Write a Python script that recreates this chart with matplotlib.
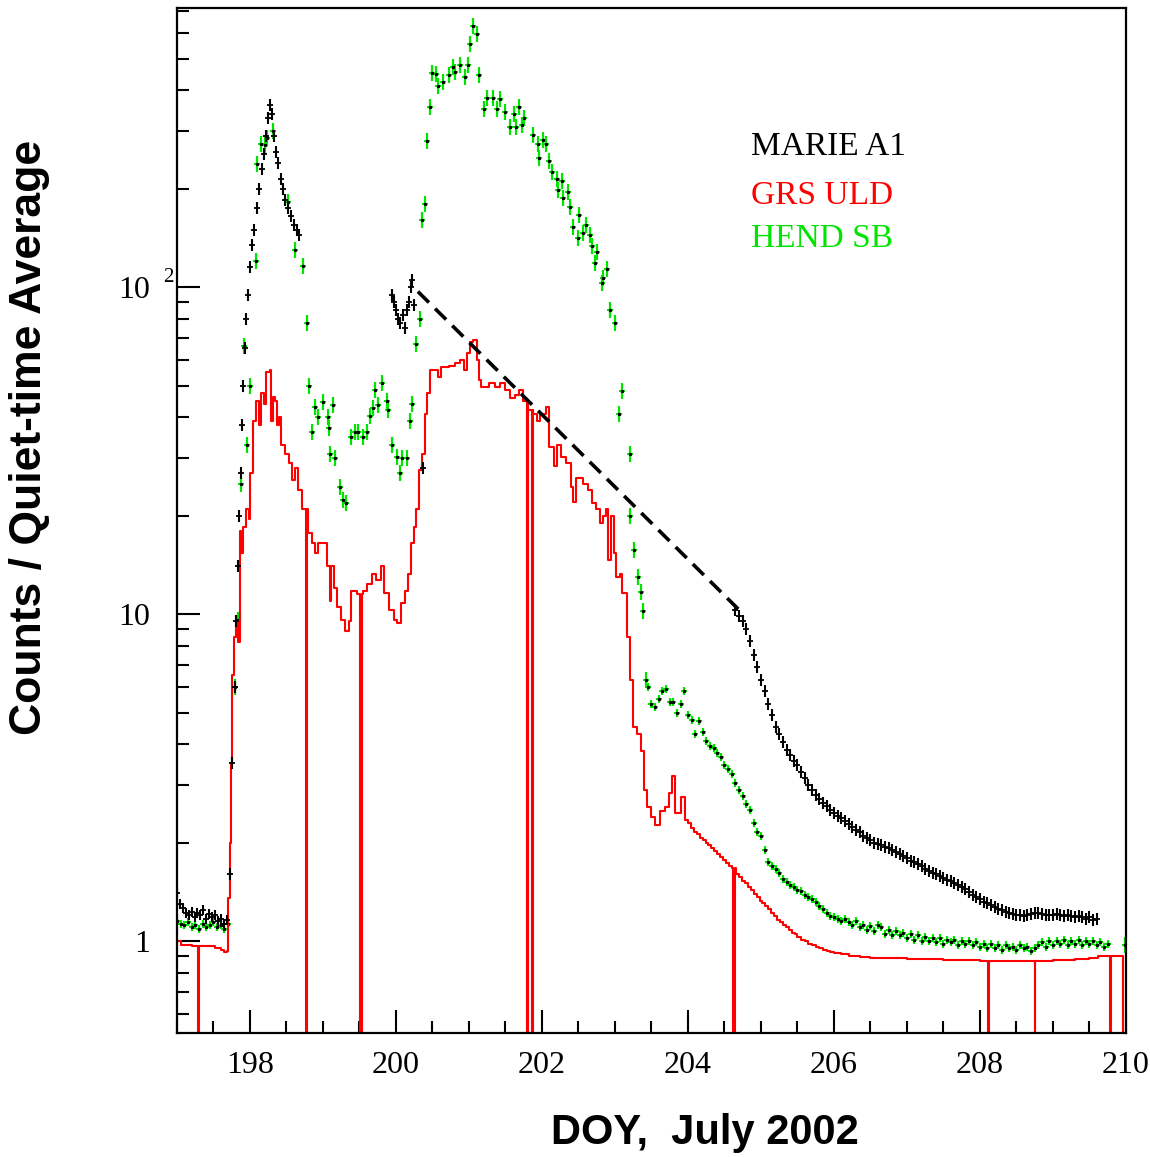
import numpy as np
import matplotlib.pyplot as plt
from matplotlib.ticker import MultipleLocator, LogLocator, NullFormatter, FixedFormatter

# ---------------- data ----------------
# MARIE A1 (black points)
marie_quiet = [1.40, 1.30, 1.26, 1.22, 1.20, 1.23, 1.18, 1.22, 1.20, 1.24,
               1.17, 1.21, 1.18, 1.20, 1.15, 1.17, 1.13, 1.16]          # 197.00 - 197.68
marie_rise_day = [197.72, 197.76, 197.79, 197.81, 197.83, 197.85, 197.87, 197.89,
                  197.91, 197.93, 197.95, 197.97, 198.00, 198.03, 198.06, 198.10,
                  198.13, 198.16, 198.19, 198.22, 198.25, 198.27, 198.30, 198.33,
                  198.36, 198.39, 198.42, 198.45, 198.48, 198.52, 198.56, 198.60,
                  198.64, 198.67]
marie_rise_val = [1.6, 3.5, 6.0, 9.5, 14, 20, 27, 38,
                  50, 65, 80, 95, 115, 135, 150, 175,
                  200, 230, 255, 290, 330, 360, 340, 290,
                  260, 240, 215, 200, 185, 175, 165, 155,
                  150, 145]
marie_mid_day = [199.95, 199.97, 200.00, 200.03, 200.06, 200.09, 200.12, 200.15,
                 200.18, 200.20, 200.22, 200.24, 200.37]
marie_mid_val = [95, 90, 85, 80, 78, 82, 75, 85, 90, 100, 105, 88, 28]
marie_tail = [10.3, 9.9, 9.5, 9.0, 8.3, 7.5, 6.9, 6.3, 5.8, 5.3,
              4.9, 4.5, 4.3, 4.05, 3.85, 3.7, 3.55, 3.45, 3.3, 3.15,
              3.0, 2.9, 2.8, 2.72, 2.64, 2.58, 2.52, 2.47, 2.42, 2.38,
              2.33, 2.28, 2.24, 2.19, 2.15, 2.1, 2.06, 2.03, 2.0, 1.98,
              1.96, 1.94, 1.92, 1.9, 1.87, 1.85, 1.82, 1.79, 1.76, 1.74,
              1.72, 1.69, 1.66, 1.64, 1.62, 1.6, 1.58, 1.56, 1.54, 1.53,
              1.5, 1.48, 1.46, 1.44, 1.41, 1.38, 1.36, 1.34, 1.32, 1.31,
              1.29, 1.27, 1.25, 1.24, 1.23, 1.22, 1.21, 1.2, 1.2, 1.19,
              1.2, 1.21, 1.22, 1.22, 1.21, 1.2, 1.2, 1.2, 1.21, 1.2,
              1.19, 1.2, 1.19, 1.18, 1.19, 1.18, 1.17, 1.18, 1.16, 1.17]  # 204.65 - 209.60

# GRS ULD (red histogram)
grs_day = [197.00, 197.06, 197.20, 197.40, 197.52, 197.60, 197.64, 197.68, 197.70, 197.72,
           197.74, 197.76, 197.78, 197.81, 197.84, 197.86, 197.88, 197.90, 197.94, 197.98,
           198.00, 198.04, 198.08, 198.12, 198.15, 198.19, 198.22, 198.27, 198.29, 198.31,
           198.34, 198.37, 198.40, 198.43, 198.48, 198.53, 198.58, 198.62, 198.66, 198.71,
           198.80, 198.85, 198.89, 198.93, 199.05, 199.09, 199.11, 199.15, 199.19, 199.25,
           199.30, 199.36, 199.38, 199.47, 199.55, 199.60, 199.67, 199.73, 199.80, 199.84,
           199.90, 199.97, 200.02, 200.07, 200.12, 200.17, 200.21, 200.24, 200.27, 200.31,
           200.36, 200.40, 200.43, 200.47, 200.57, 200.62, 200.72, 200.81, 200.88, 200.93,
           200.97, 201.02, 201.06, 201.11, 201.14, 201.17, 201.27, 201.36, 201.43, 201.50,
           201.56, 201.63, 201.68, 201.74, 201.81, 201.87, 201.93, 201.97, 202.06, 202.09,
           202.16, 202.20, 202.26, 202.33, 202.40, 202.43, 202.47, 202.56, 202.63, 202.68,
           202.74, 202.80, 202.84, 202.88, 202.91, 202.94, 202.99, 203.02, 203.07, 203.10,
           203.17, 203.20, 203.25, 203.30, 203.35, 203.40, 203.44, 203.50, 203.55, 203.62,
           203.69, 203.74, 203.78, 203.82, 203.90, 203.96, 204.00, 204.04, 204.08, 204.12,
           204.16, 204.20, 204.24, 204.28, 204.32, 204.36, 204.40, 204.44, 204.48, 204.52,
           204.56, 204.60, 204.66, 204.70, 204.74, 204.78, 204.82, 204.86, 204.90, 204.94,
           204.98, 205.02, 205.06, 205.10, 205.14, 205.18, 205.22, 205.26, 205.30, 205.34,
           205.38, 205.42, 205.46, 205.50, 205.55, 205.60, 205.65, 205.70, 205.75, 205.80,
           205.85, 205.90, 205.95, 206.00, 206.10, 206.20, 206.35, 206.50, 206.75, 207.00,
           207.50, 208.00, 208.50, 209.00, 209.30, 209.50, 209.62, 209.96]
grs_val = [1.00, 0.975, 0.965, 0.962, 0.955, 0.94, 0.925, 0.935, 1.35, 2.0,
           3.5, 6.5, 8.5, 9.5, 8.2, 18.0, 15.4, 18.5, 21.0, 19.5,
           27.0, 39.0, 45.0, 38.0, 47.5, 44.0, 55.0, 56.0, 39.0, 46.0,
           45.0, 38.0, 40.0, 33.0, 31.0, 29.0, 25.7, 28.0, 24.0, 21.0,
           17.7, 16.5, 15.4, 16.5, 14.0, 11.0, 14.0, 12.0, 10.5, 9.6,
           8.9, 9.5, 11.8, 11.5, 11.8, 12.4, 13.3, 12.7, 14.0, 11.6,
           10.3, 9.6, 9.4, 10.8, 11.8, 13.3, 16.5, 18.5, 21.0, 27.6,
           31.0, 41.0, 47.5, 55.7, 53.0, 57.0, 57.6, 58.5, 60.0, 55.7,
           63.0, 68.0, 69.0, 60.0, 52.0, 49.5, 51.0, 49.5, 51.0, 48.5,
           45.7, 46.7, 48.5, 45.0, 42.0, 41.0, 39.0, 41.0, 43.0, 32.5,
           28.3, 33.0, 30.3, 29.0, 24.5, 22.0, 26.0, 25.0, 24.0, 21.8,
           21.0, 19.0, 20.0, 21.0, 14.6, 20.0, 15.4, 13.0, 13.3, 11.6,
           8.5, 6.3, 4.5, 4.3, 3.8, 2.9, 2.57, 2.4, 2.26, 2.5,
           2.57, 2.83, 3.2, 2.46, 2.76, 2.34, 2.3, 2.22, 2.16, 2.12,
           2.06, 2.03, 2.0, 1.96, 1.93, 1.89, 1.85, 1.81, 1.77, 1.73,
           1.7, 1.67, 1.6, 1.57, 1.53, 1.5, 1.46, 1.43, 1.39, 1.36,
           1.33, 1.31, 1.28, 1.25, 1.22, 1.19, 1.16, 1.14, 1.12, 1.1,
           1.08, 1.06, 1.05, 1.03, 1.01, 1.0, 0.98, 0.97, 0.96, 0.95,
           0.94, 0.93, 0.925, 0.92, 0.91, 0.90, 0.895, 0.89, 0.885, 0.88,
           0.875, 0.87, 0.87, 0.875, 0.88, 0.885, 0.9, 0.9]
# bins where GRS counts drop to zero: (start day, width in days)
grs_gaps = [(197.29, 0.012), (198.77, 0.012), (199.51, 0.025), (201.79, 0.02),
            (201.86, 0.01), (204.62, 0.025), (208.11, 0.01), (208.75, 0.01),
            (209.78, 0.01)]

# HEND SB (green points)
hend_quiet = [1.15, 1.13, 1.12, 1.14, 1.10, 1.12, 1.09, 1.13, 1.10, 1.12,
              1.14, 1.10, 1.12, 1.09, 1.13]                             # 197.00 - 197.70
hend_day = [197.80, 197.83, 197.87, 197.92, 197.96, 198.00, 198.08, 198.10, 198.15, 198.20,
            198.23, 198.32, 198.52, 198.61, 198.72, 198.78, 198.81, 198.85, 198.89, 198.93,
            199.00, 199.07, 199.08, 199.10, 199.14, 199.16, 199.23, 199.27, 199.32, 199.39,
            199.44, 199.48, 199.55, 199.60, 199.64, 199.69, 199.71, 199.75, 199.81, 199.87,
            199.89, 199.94, 200.01, 200.05, 200.08, 200.15, 200.19, 200.22, 200.27, 200.33,
            200.35, 200.40, 200.42, 200.47, 200.49, 200.55, 200.58, 200.64, 200.72, 200.78,
            200.81, 200.88, 200.95, 200.99, 201.01, 201.05, 201.11, 201.14, 201.20, 201.25,
            201.33, 201.38, 201.42, 201.49, 201.56, 201.61, 201.65, 201.68, 201.72, 201.76,
            201.88, 201.94, 201.96, 202.02, 202.05, 202.09, 202.14, 202.20, 202.22, 202.27,
            202.29, 202.35, 202.38, 202.43, 202.49, 202.51, 202.56, 202.60, 202.66, 202.68,
            202.73, 202.76, 202.82, 202.84, 202.89, 202.93, 203.00, 203.06, 203.09, 203.20,
            203.21, 203.26, 203.32, 203.35, 203.38, 203.43, 209.98]
hend_val = [6.0, 9.6, 25, 66, 33, 50, 120, 238, 275, 272,
            286, 300, 182, 130, 116, 78, 50, 36, 43, 40,
            44.5, 40, 37, 31, 43.6, 30, 24.5, 22.3, 21.8, 34.8,
            36, 36, 34.8, 36, 40.5, 42.6, 48.5, 43.6, 51, 45,
            42, 33, 30.3, 27, 30, 30, 39, 44, 67, 80,
            161, 180, 280, 356, 452, 450, 414, 424, 445, 472,
            456, 478, 440, 478, 555, 632, 595, 445, 351, 380,
            380, 350, 376, 343, 310, 340, 310, 355, 313, 330,
            292, 275, 248, 282, 274, 244, 225, 215, 198, 212,
            187, 195, 176, 153, 141, 166, 147, 155, 144, 134,
            119, 128, 103, 107, 114, 85, 78, 41, 48, 31,
            20, 15.7, 13, 11.7, 10.2, 6.3, 0.97]
hend_tail = [6.0, 5.3, 5.2, 5.5, 5.8, 5.9, 5.4, 5.4, 5.0, 5.3,
             5.8, 4.9, 4.75, 4.3, 4.7, 4.35, 4.1, 3.95, 3.9, 3.75,
             3.65, 3.45, 3.35, 3.25, 3.05, 2.9, 2.78, 2.62, 2.52, 2.3,
             2.16, 2.1, 1.9, 1.75, 1.7, 1.66, 1.62, 1.55, 1.52, 1.48,
             1.46, 1.43, 1.42, 1.38, 1.36, 1.34, 1.32, 1.28, 1.25, 1.22,
             1.19, 1.18, 1.17, 1.15, 1.17, 1.14, 1.12, 1.15, 1.1, 1.12,
             1.08, 1.11, 1.07, 1.12, 1.1, 1.05, 1.08, 1.04, 1.07, 1.04,
             1.06, 1.02, 1.05, 1.01, 1.04, 1.0, 1.03, 1.0, 1.02, 0.99,
             1.02, 0.98, 1.01, 0.99, 1.01, 0.97, 1.0, 0.98, 1.0, 0.97,
             0.99, 0.96, 0.98, 0.95, 0.98, 0.95, 0.97, 0.94, 0.97, 0.95,
             0.96, 0.94, 0.97, 0.95, 0.96, 0.93, 0.95, 0.97, 0.99, 0.96,
             1.0, 0.97, 1.0, 0.98, 1.01, 0.97, 1.0, 0.98, 1.01, 0.97,
             1.0, 0.98, 1.0, 0.97, 0.99, 0.96, 0.98]                  # 203.45 - 209.75

# dashed decay line
fit_day = [200.3, 204.7]
fit_val = [97, 10.3]

legend_names = ["MARIE A1", "GRS ULD", "HEND SB"]

# ---------------- drawing ----------------
RED = "#ff0000"
GREEN = "#00e400"

fig = plt.figure(figsize=(11.5, 11.57), dpi=100)
ax = fig.add_axes([177 / 1150, 1 - 1033 / 1157, 949 / 1150, 1025 / 1157])

# HEND SB: green error bars with a black centre dot
hq_day = np.linspace(197.0, 197.7, len(hend_quiet))
ht_day = np.linspace(203.45, 209.75, len(hend_tail))
for d, v, ms in [(hq_day, hend_quiet, 6), (hend_day, hend_val, 11), (ht_day, hend_tail, 6)]:
    ax.plot(d, v, ls="none", marker="|", ms=ms, mew=1.6, color=GREEN)
    ax.plot(d, v, ls="none", marker="_", ms=4, mew=1.4, color=GREEN)
    ax.plot(d, v, ls="none", marker="s", ms=1.3, color="k")

# GRS ULD: histogram outline, zero bins run off the bottom
d = list(grs_day)
v = list(grs_val)
for g, w in grs_gaps:
    i = int(np.searchsorted(d, g))
    prev = v[i - 1]
    d[i:i] = [g, g + w]
    v[i:i] = [1e-3, prev]
d.append(grs_day[-1])
v.append(1e-3)
ax.plot(d, v, drawstyle="steps-post", color=RED, lw=1.5)

# MARIE A1: black crosses
mq_day = np.linspace(197.0, 197.68, len(marie_quiet))
mt_day = np.linspace(204.65, 209.60, len(marie_tail))
for dd, vv, ms in [(mq_day, marie_quiet, 7), (marie_rise_day, marie_rise_val, 9),
                   (marie_mid_day, marie_mid_val, 9), (mt_day, marie_tail, 8)]:
    ax.plot(dd, vv, ls="none", marker="|", ms=ms, mew=1.5, color="k")
    ax.plot(dd, vv, ls="none", marker="_", ms=4, mew=1.3, color="k")

ax.plot(fit_day, fit_val, color="k", lw=2.6, dashes=(4.3, 2.4))

ax.set_yscale("log")
ax.set_xlim(197, 210)
ax.set_ylim(0.523, 715)

ax.xaxis.set_major_locator(MultipleLocator(2))
ax.xaxis.set_minor_locator(MultipleLocator(0.5))
ax.yaxis.set_major_locator(LogLocator(base=10))
ax.yaxis.set_minor_locator(LogLocator(base=10, subs=np.arange(2, 10)))
ax.yaxis.set_minor_formatter(NullFormatter())
ax.set_yticks([1, 10, 100])
ax.yaxis.set_major_formatter(FixedFormatter(["1", "10", "10"]))

ax.tick_params(which="both", direction="in", top=False, right=False, width=1.5,
               labelsize=23, labelfontfamily="Liberation Serif")
ax.tick_params(which="major", length=16.5)
ax.tick_params(which="minor", length=8.6)
ax.tick_params(axis="y", pad=19)
ax.tick_params(axis="x", pad=13)

for s in ax.spines.values():
    s.set_linewidth(1.6)

# superscript of 10^2
ax.annotate("2", xy=(0, 100), xycoords=("axes fraction", "data"), xytext=(-3, 10),
            textcoords="offset pixels", ha="right", va="center", fontsize=15,
            family="Liberation Serif")

fig.text(30 / 1150, 1 - 437 / 1157, "Counts / Quiet-time Average", rotation=90,
         ha="center", va="center", fontsize=32, fontweight="bold", family="Liberation Sans")
fig.text(705 / 1150, 1 - 1133 / 1157, "DOY,  July 2002", ha="center", va="center",
         fontsize=30, fontweight="bold", family="Liberation Sans")

for name, col, base in zip(legend_names, ["k", RED, GREEN], [155, 203.5, 247]):
    fig.text(751 / 1150, 1 - base / 1157, name, color=col, ha="left", va="baseline",
             fontsize=24, family="Liberation Serif")

fig.savefig("out.png", dpi=100)
